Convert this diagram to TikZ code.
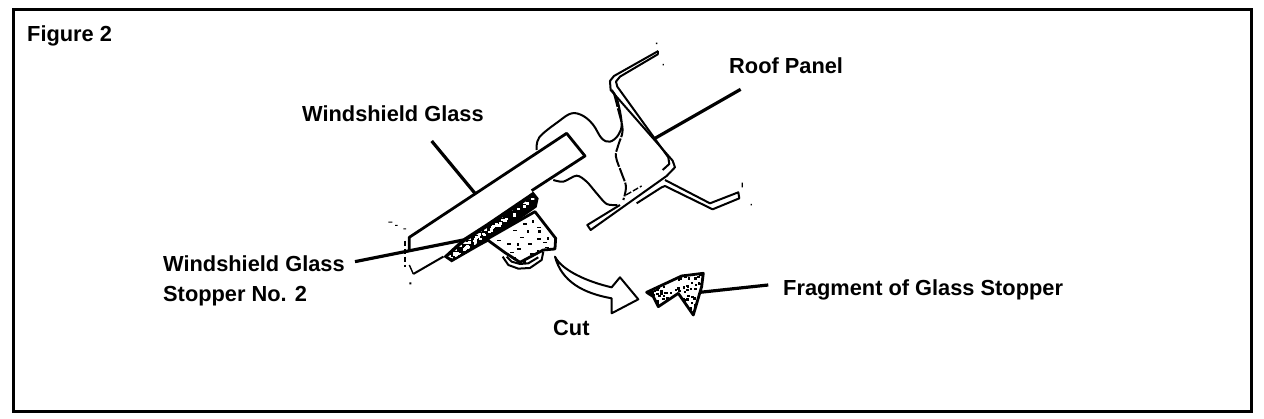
\documentclass[tikz,border=0pt]{standalone}
\usepackage{fontspec}
\setmainfont{Liberation Sans}
\tikzset{
  lbl/.style={font=\bfseries\fontsize{21.8}{30}\selectfont,text=black,inner sep=0pt,anchor=west,align=left},
  leader/.style={line width=3.2pt,black},
  ink/.style={line width=2pt,black,line join=round},
  thin ink/.style={line width=1.4pt,black,line join=round},
  heavy/.style={line width=2.8pt,black,line join=round},
  zoomframe/.style={shift={(380,30)},x=0.3333pt,y=-0.3333pt}
}
\begin{document}
\begin{tikzpicture}[x=1pt,y=-1pt]
\pgfmathsetseed{4242}
\useasboundingbox (0,0) rectangle (1264,418);
\fill[white] (0,0) rectangle (1264,418);
\draw[line width=3pt,black] (13,9) rectangle (1251,411);
\node[lbl] (fig) at (27,36) {Figure 2};
\node[lbl] (roof) at (729,66) {Roof Panel};
\node[lbl] (wg) at (302,114) {Windshield Glass};
\node[lbl] (st) at (163,281) {Windshield Glass\\Stopper No. 2};
\node[lbl] (cut) at (553,328) {Cut};
\node[lbl] (frag) at (783,290) {Fragment of Glass Stopper};
\begin{scope}[zoomframe]
 % leader ends
 \coordinate (wgA) at (155,333); \coordinate (wgB) at (285,490);
 \coordinate (rfA) at (1082,178); \coordinate (rfB) at (825,325);
 \coordinate (stA) at (-75,695); \coordinate (stB) at (250,630);
 \coordinate (frA) at (1165,765); \coordinate (frB) at (960,787);
 % seal
 \draw[ink] plot[smooth,tension=.6] coordinates {(470,360)(478,322)(535,275)(575,250)(610,258)(640,285)(665,325)(690,335)(715,315)(725,280)(712,210)(695,180)};
 \draw[ink,dash pattern=on 14pt off 1.5pt] plot[smooth,tension=.6] coordinates {(702,190)(715,240)(728,300)(715,345)(708,380)(725,430)(738,470)(730,510)};
 \draw[ink] plot[smooth,tension=.5] coordinates {(520,450)(550,455)(590,437)(620,455)(650,490)(680,522)(712,525)};
 % glass
 \draw[heavy] (88,660)--(88,622)--(560,310)--(615,378)--(455,482);
 \draw[ink,dash pattern=on 5pt off 3pt] (74,632)--(74,712);
 \draw[ink] (100,732)--(190,680);
 \draw[thin ink] (88,705)--(100,732);
 % specks
 \fill (25,575) rectangle +(12,3) (45,585) rectangle +(8,3) (70,595) rectangle +(8,3) (88,757) rectangle +(6,6) (828,38) rectangle +(4,4) (848,102) rectangle +(4,4) (1112,522) rectangle +(4,4) (1085,458) rectangle +(4,14);
 % roof panel
 \draw[ink] (835,63)--(702,138)--(690,153)--(692,180)--(878,392)--(885,412)--(860,438)--(632,600)--(622,585)--(720,525);
 \draw[ink] (835,72)--(720,140)--(708,155)--(712,170)--(865,382)--(868,402)--(848,420);
 \draw[ink] (835,63)--(835,72);
 \draw[thin ink,dash pattern=on 6pt off 2pt] (738,495)--(785,468);
 \draw[ink] (855,450)--(990,520)--(1075,487)--(1078,505)--(998,538)--(855,468)--(845,472)--(770,520);
 % stopper band
 \fill[black,line join=round] (190,680)--(215,697)--(300,648)--(330,632)--(470,532)--(476,505)--(460,485)--(320,580)--(250,625)--cycle;
 \begin{scope}
  \clip (205,680)--(220,686)--(300,635)--(330,618)--(465,524)--(462,498)--(325,592)--(255,636)--cycle;
  \foreach \i in {1,...,70} {
    \pgfmathsetmacro{\t}{rnd}\pgfmathsetmacro{\n}{rnd*30-15}
    \fill[white] ({205+260*\t},{680-190*\t+\n}) rectangle +(9,7);
  }
 \end{scope}
 % stopper block
 \draw[heavy,fill=white] (320,628)--(465,545)--(527,625)--(525,657)--(490,660)--(420,697)--(375,668)--cycle;
 \foreach \a/\b in {400/600,420/620,445/640,470/625,490/635,380/640,410/655,450/670,470/590,430/580,495/650,350/630,390/665}
   \fill (\a,\b) rectangle +(12,4);
 \foreach \a/\b in {455/570,475/600,500/620,440/600,410/640,430/690,400/680,470/660}
   \fill (\a,\b) rectangle +(7,9);
 % cup
 \draw[ink] (368,680)--(385,705)--(415,716)--(450,714)--(485,690)--(490,665);
 \draw[ink] (380,680)--(395,695)--(420,702)--(445,700)--(475,682);
 % cut arrow
 \draw[ink,fill=white] (525,680)..controls (545,720) and (620,755) ..(695,772)--(720,742)--(775,808)--(695,850)--(695,805)..controls (610,790) and (545,755) ..cycle;
 % fragment
 \draw[heavy,fill=white] (800,787)--(905,738)--(970,730)--(965,770)--(940,855)--(895,790)--(835,830)--(820,800)--cycle;
 \begin{scope}
  \clip (800,787)--(905,738)--(970,730)--(965,770)--(940,855)--(895,790)--(835,830)--(820,800)--cycle;
  \foreach \i in {1,...,130} {
    \pgfmathsetmacro{\p}{800+170*rnd}\pgfmathsetmacro{\q}{730+125*rnd}
    \fill (\p,\q) rectangle +(8,7);
  }
 \end{scope}
 % leaders
 \draw[leader] (wgA)--(wgB);
 \draw[leader] (rfA)--(rfB);
 \draw[leader] (stA)--(stB);
 \draw[leader] (frA)--(frB);
\end{scope}
\end{tikzpicture}
\end{document}
